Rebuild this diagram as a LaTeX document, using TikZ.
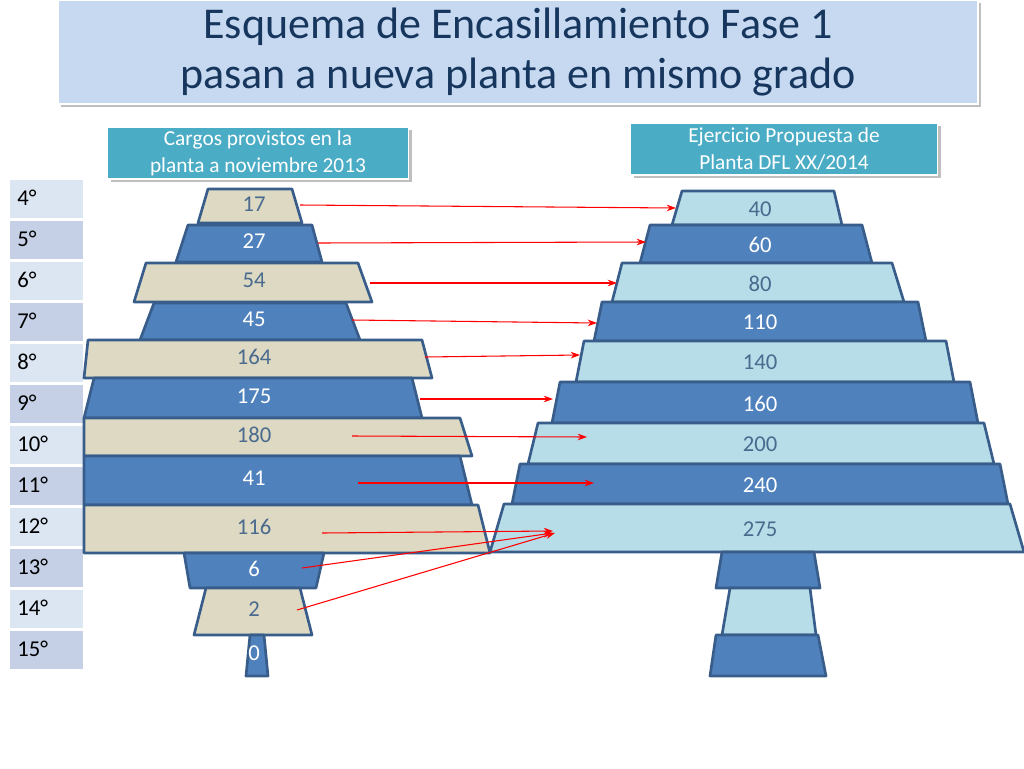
\documentclass[tikz,border=0pt]{standalone}
\usepackage{fontspec}
\setmainfont{Carlito}
\usetikzlibrary{arrows.meta,shadows}
\definecolor{tanf}{HTML}{DDD9C3}
\definecolor{bluef}{HTML}{4F81BD}
\definecolor{ltf}{HTML}{B7DDE8}
\definecolor{edge}{HTML}{385D8A}
\definecolor{teal}{HTML}{4BACC6}
\definecolor{titf}{HTML}{C6D9F1}
\definecolor{rowa}{HTML}{DCE6F2}
\definecolor{rowb}{HTML}{C5D0E6}
\definecolor{numc}{HTML}{4A6A8E}
\definecolor{titc}{HTML}{17365D}
\tikzset{
 tz/.style={draw=edge,line width=2pt,line join=round},
 arr/.style={draw=red,line width=0.8pt,-{Stealth[length=7pt,width=5pt]}},
 num/.style={font=\fontsize{17}{17}\selectfont},
 row/.style={draw=white,line width=1.5pt,anchor=north west,minimum width=56.25pt,minimum height=30pt,inner sep=0pt},
 rowt/.style={anchor=west,font=\fontsize{17}{17}\selectfont,inner sep=0pt},
 hdr/.style={fill=teal,draw=white,line width=0.8pt,text=white,align=center,font=\fontsize{16}{20}\selectfont,drop shadow,inner sep=1pt}
}
\begin{document}
\begin{tikzpicture}[x=0.75pt,y=-0.75pt]
\useasboundingbox (0,0) rectangle (1024,768);
% title
\node[fill=titf,draw=white,line width=1pt,minimum width=690pt,minimum height=78pt,drop shadow,align=center,font=\fontsize{33}{37}\selectfont,text=titc] (title) at (518,52) {Esquema de Encasillamiento Fase 1\\pasan a nueva planta en mismo grado};
\node[hdr,minimum width=226pt,minimum height=39pt] (hl) at (258,153) {Cargos provistos en la\\planta a noviembre 2013};
\node[hdr,minimum width=230pt,minimum height=39pt] (hr) at (784,149) {Ejercicio Propuesta de\\Planta DFL XX/2014};
% rows
\foreach \t [count=\i from 0] in {4°,5°,6°,7°,8°,9°,10°,11°,12°,13°,14°,15°}{
 \pgfmathsetmacro\yy{178+41*\i}
 \ifodd\i \def\rc{rowb}\else\def\rc{rowa}\fi
 \node[row,fill=\rc] (r\i) at (8,\yy) {};
 \node[rowt] (rt\i) at (17,\yy+20) {\t};
}
% left trapezoids
\foreach \a/\b/\tl/\tr/\bl/\br/\f/\v/\c [count=\k] in {
189/223/208/292/198/302/tanf/17/numc,
225/262/188/312/176/322/bluef/27/white,
263/302/146/358/134/372/tanf/54/numc,
303/340/154/346/140/360/bluef/45/white,
340/378/88/422/84/432/tanf/164/numc,
378/418/94/412/84/422/bluef/175/white,
418/456/84/460/84/472/tanf/180/numc,
456/505/84/460/84/472/bluef/41/white,
505/553/84/478/84/490/tanf/116/numc,
553/588/184/324/190/316/bluef/6/white,
588/635/206/300/194/312/tanf/2/numc,
635/676/250/264/246/268/bluef/0/white}{
 \draw[tz,fill=\f] (\tl,\a) -- (\tr,\a) -- (\br,\b) -- (\bl,\b) -- cycle;
 \node[num,text=\c] (L\k) at (254,{(\a+\b)/2-2}) {\v};
}
% right trapezoids
\foreach \a/\b/\tl/\tr/\bl/\br/\f/\v/\c [count=\k] in {
191/225/682/834/672/842/ltf/40/numc,
225/263/650/862/640/872/bluef/60/white,
263/302/622/892/612/904/ltf/80/numc,
302/341/602/918/594/926/bluef/110/white,
341/382/584/946/576/954/ltf/140/numc,
382/423/560/970/552/978/bluef/160/white,
423/464/538/984/528/994/ltf/200/numc,
464/504/520/1000/512/1008/bluef/240/white,
504/552/504/1010/490/1024/ltf/275/numc}{
 \draw[tz,fill=\f] (\tl,\a) -- (\tr,\a) -- (\br,\b) -- (\bl,\b) -- cycle;
 \node[num,text=\c] (R\k) at (760,{(\a+\b)/2+1}) {\v};
}
\draw[tz,fill=bluef] (722,552) -- (814,552) -- (820,588) -- (716,588) -- cycle;
\draw[tz,fill=ltf] (730,588) -- (810,588) -- (816,635) -- (722,635) -- cycle;
\draw[tz,fill=bluef] (716,635) -- (818,635) -- (826,676) -- (710,676) -- cycle;
% arrows
\coordinate (s1) at (300,205); \coordinate (e1) at (676,208);
\coordinate (s2) at (318,243); \coordinate (e2) at (646,242);
\coordinate (s3) at (370,283); \coordinate (e3) at (617,283);
\coordinate (s4) at (352,320); \coordinate (e4) at (597,323);
\coordinate (s5) at (425,357); \coordinate (e5) at (580,355);
\coordinate (s6) at (420,399); \coordinate (e6) at (553,399);
\coordinate (s7) at (352,436); \coordinate (e7) at (587,437);
\coordinate (s8) at (358,483); \coordinate (e8) at (594,483);
\coordinate (s9) at (322,533); \coordinate (e9) at (553,531);
\coordinate (s10) at (302,568); \coordinate (e10) at (553,533);
\coordinate (s11) at (297,610); \coordinate (e11) at (555,533);
\foreach \i in {1,...,11} \draw[arr] (s\i) -- (e\i);
\end{tikzpicture}
\end{document}
